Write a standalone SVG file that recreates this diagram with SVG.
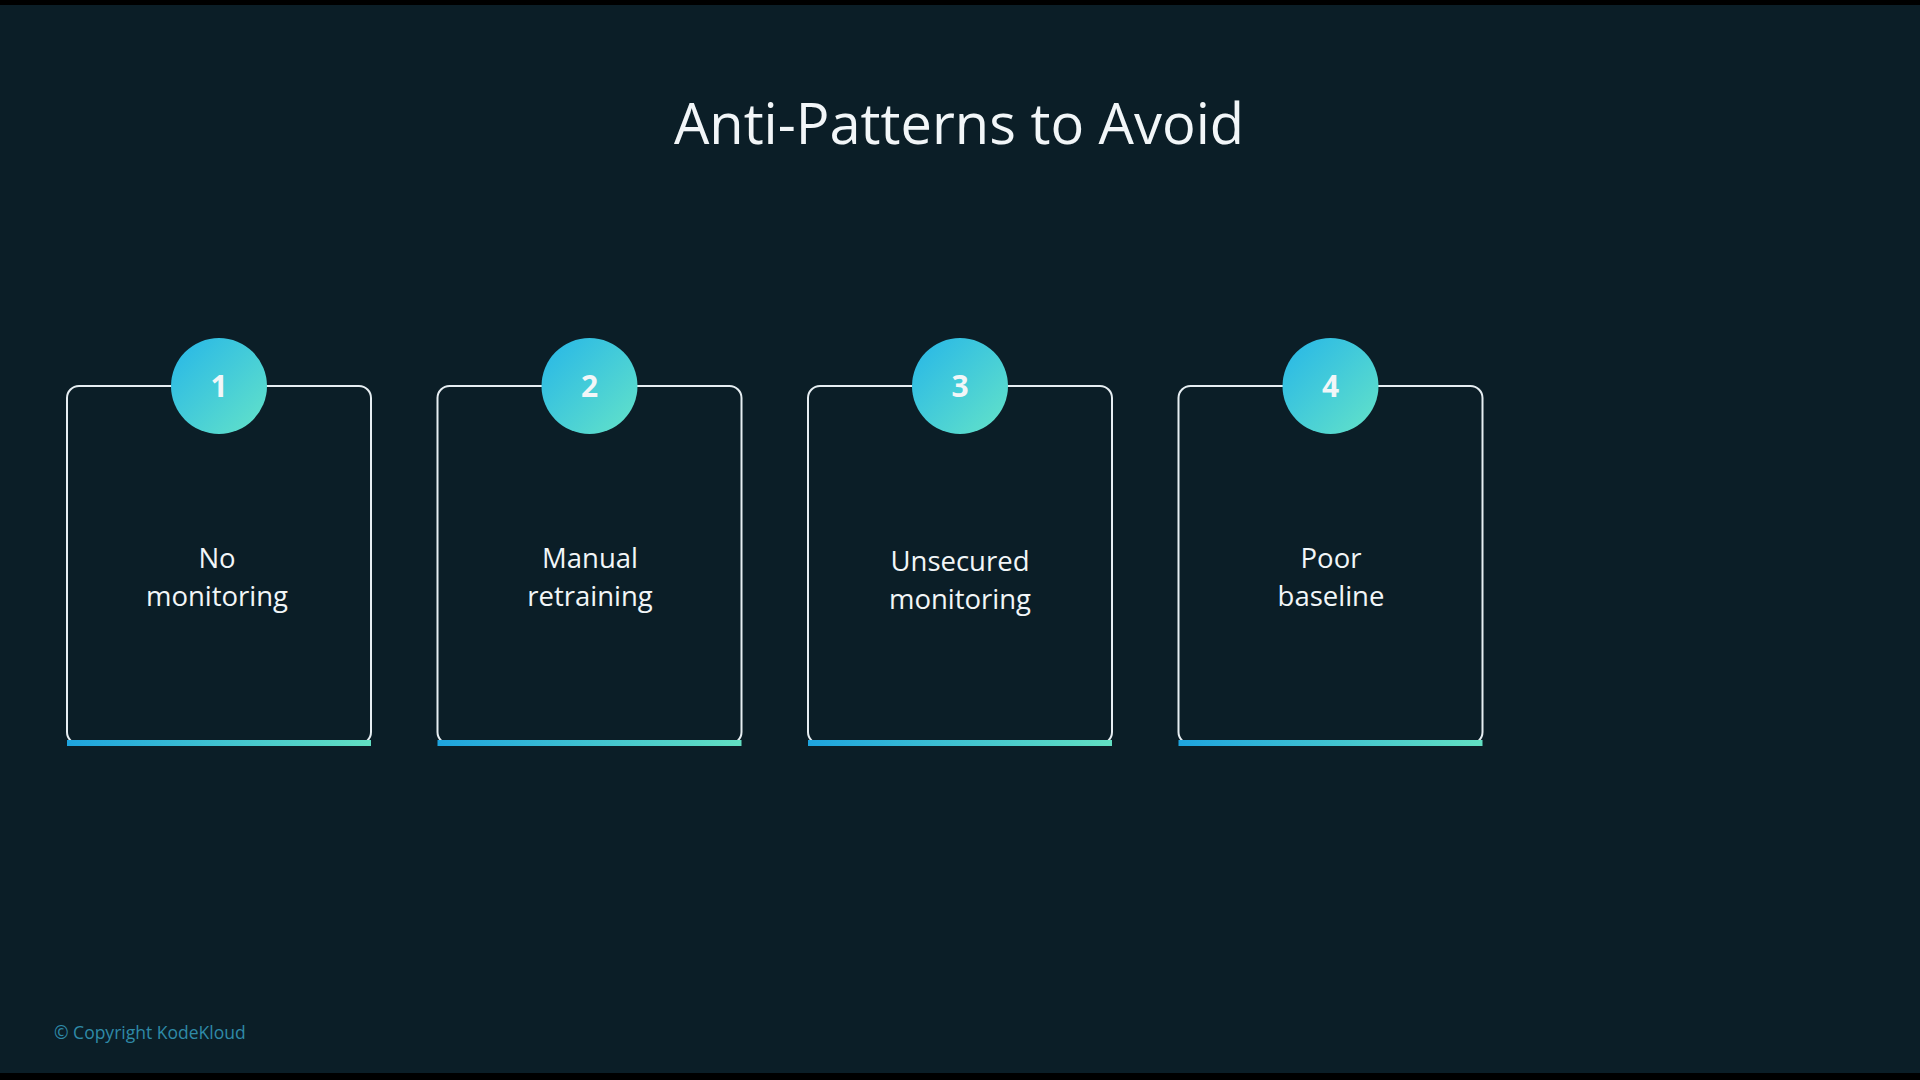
<svg xmlns="http://www.w3.org/2000/svg" width="1920" height="1080" viewBox="0 0 1920 1080">
  <defs>
    <linearGradient id="circGrad" x1="0" y1="0" x2="1" y2="1">
      <stop offset="0" stop-color="#26b6e8"/>
      <stop offset="1" stop-color="#64e3c8"/>
    </linearGradient>
    <linearGradient id="barGrad" x1="0" y1="0" x2="1" y2="0">
      <stop offset="0" stop-color="#1ea4de"/>
      <stop offset="1" stop-color="#62e0c2"/>
    </linearGradient>
    <style>
      .card { fill: none; stroke: #e6eef2; stroke-width: 2; }
      .bar { fill: url(#barGrad); }
      .circ { fill: url(#circGrad); }
      .num { font-family: "Open Sans", "Liberation Sans", sans-serif; font-weight: 700; font-size: 30px; fill: #f2f6f8; text-anchor: middle; }
      .lbl { font-family: "Open Sans", "Liberation Sans", sans-serif; font-size: 27.5px; fill: #f2f6f8; text-anchor: middle; }
      .title { font-family: "Open Sans", "Liberation Sans", sans-serif; font-size: 56px; fill: #f2f6f8; text-anchor: middle; }
      .copy { font-family: "Open Sans", "Liberation Sans", sans-serif; font-size: 17.5px; fill: #2f8aa8; }
    </style>
  </defs>
  <rect x="0" y="0" width="1920" height="1080" fill="#0b1e27"/>
  <rect x="0" y="0" width="1920" height="5" fill="#000000"/>
  <rect x="0" y="1073" width="1920" height="7" fill="#000000"/>

  <text class="title" x="959" y="144">Anti-Patterns to Avoid</text>

  <g id="connectors"></g>

  <g id="node1">
    <rect class="card" x="67" y="386" width="304" height="358" rx="12"/>
    <rect class="bar" x="67" y="740" width="304" height="6"/>
    <circle class="circ" cx="219" cy="386" r="48"/>
    <text class="num" x="219" y="397">1</text>
    <text class="lbl" x="217" y="568">No</text>
    <text class="lbl" x="217" y="606">monitoring</text>
  </g>

  <g id="node2">
    <rect class="card" x="437.5" y="386" width="304" height="358" rx="12"/>
    <rect class="bar" x="437.5" y="740" width="304" height="6"/>
    <circle class="circ" cx="589.5" cy="386" r="48"/>
    <text class="num" x="589.5" y="397">2</text>
    <text class="lbl" x="590" y="568">Manual</text>
    <text class="lbl" x="590" y="606">retraining</text>
  </g>

  <g id="node3">
    <rect class="card" x="808" y="386" width="304" height="358" rx="12"/>
    <rect class="bar" x="808" y="740" width="304" height="6"/>
    <circle class="circ" cx="960" cy="386" r="48"/>
    <text class="num" x="960" y="397">3</text>
    <text class="lbl" x="960" y="571">Unsecured</text>
    <text class="lbl" x="960" y="609">monitoring</text>
  </g>

  <g id="node4">
    <rect class="card" x="1178.5" y="386" width="304" height="358" rx="12"/>
    <rect class="bar" x="1178.5" y="740" width="304" height="6"/>
    <circle class="circ" cx="1330.5" cy="386" r="48"/>
    <text class="num" x="1330.5" y="397">4</text>
    <text class="lbl" x="1331" y="568">Poor</text>
    <text class="lbl" x="1331" y="606">baseline</text>
  </g>

  <text class="copy" x="54" y="1039">© Copyright KodeKloud</text>
</svg>
